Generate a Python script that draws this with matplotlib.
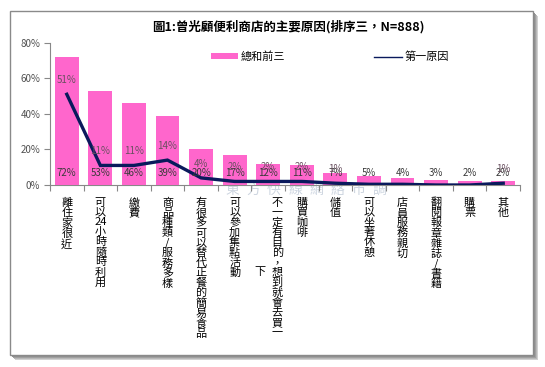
import matplotlib
matplotlib.use('Agg')
import matplotlib.pyplot as plt
import matplotlib.patches as mpatches
import matplotlib.transforms as mtransforms
from matplotlib.lines import Line2D
import numpy as np

plt.rcParams['font.family'] = ['Noto Sans CJK TC', 'DejaVu Sans']

# data
categories = ['離住家很近', '可以24小時隨時利用', '繳費', '商品種類/服務多樣',
              '有很多可以替代正餐的簡易食品', '可以參加集點活動',
              '不一定有目的，想到就會去買一下', '購買咖啡', '儲值', '可以坐著休憩',
              '店員服務親切', '翻閱報章雜誌/書籍', '購票', '其他']
top3 = [72, 53, 46, 39, 20, 17, 12, 11, 7, 5, 4, 3, 2, 2]
first = [51, 11, 11, 14, 4, 2, 2, 2, 1, 0.4, 0.4, 0, 0, 1]

title = '圖1:曾光顧便利商店的主要原因(排序三，N=888)'
watermark = '東方快線網絡市調'
bar_color = '#ff66cc'
line_color = '#0a1a5c'
axis_gray = '#888888'

W, H = 545, 367
fig = plt.figure(figsize=(W / 100, H / 100), dpi=100)

# outer frame with shadow
for off, c in [(5, '#d0d0d0'), (4, '#b8b8b8'), (3, '#a0a0a0'), (2, '#909090')]:
    fig.patches.append(mpatches.Rectangle(((10 + off) / W, (12 - off) / H), 523 / W, 344 / H,
                                          transform=fig.transFigure, facecolor=c,
                                          edgecolor='none', zorder=0))
fig.patches.append(mpatches.Rectangle((10 / W, 12 / H), 523 / W, 344 / H,
                                      transform=fig.transFigure, facecolor='white',
                                      edgecolor='#8a8a8a', lw=1.0, zorder=1))

# watermark, one glyph at a time (wide tracking)
for i, ch in enumerate(watermark):
    fig.text((232 + 21 * i) / W, (367 - 190) / H, ch, color='#cdd5e0', fontsize=10,
             ha='center', va='center', zorder=2)

ax = fig.add_axes([50 / W, 182 / H, 470 / W, 142.3 / H])
ax.set_facecolor('none')
ax.set_zorder(3)

x = np.arange(len(categories))
vals_bar = np.array(top3) / 100
vals_line = np.array(first) / 100

ax.bar(x, vals_bar, width=0.71, color=bar_color, zorder=3)
ax.plot(x, vals_line, color=line_color, lw=2.4, zorder=4, solid_joinstyle='miter')

ax.set_xlim(-0.5, len(categories) - 0.5)
ax.set_ylim(0, 0.8)
ax.set_yticks([0, 0.2, 0.4, 0.6, 0.8])
ax.set_yticklabels(['0%', '20%', '40%', '60%', '80%'])
ax.set_xticks(np.arange(len(categories) + 1) - 0.5)
ax.set_xticklabels([])
for s in ['top', 'right']:
    ax.spines[s].set_visible(False)
for s in ['left', 'bottom']:
    ax.spines[s].set_color(axis_gray)
ax.tick_params(axis='both', direction='out', length=4, color=axis_gray,
               labelsize=7, labelcolor='#505050')
ax.tick_params(axis='y', pad=3)

# data labels
tr_bar = ax.transData + mtransforms.ScaledTranslation(0, 12 / 100, fig.dpi_scale_trans)
for xi, v in zip(x, top3):
    ax.text(xi, 0, f'{v}%', transform=tr_bar, ha='center', va='center',
            fontsize=7, color='#3a3a3a', zorder=5)
tr_line = ax.transData + mtransforms.ScaledTranslation(0, 9 / 100, fig.dpi_scale_trans)
for xi, v in zip(x, first):
    if round(v) >= 1:
        ax.text(xi, v / 100, f'{round(v)}%', transform=tr_line, ha='center',
                va='bottom', fontsize=7, color='#6a5060', zorder=5)

# vertical category labels
xt = ax.get_xaxis_transform()
for xi, lab in zip(x, categories):
    if len(lab) > 14:
        col1, col2 = lab[:14], lab[14:]
        ax.text(xi + 0.27, -0.09, '\n'.join(col1), transform=xt, ha='center',
                va='top', fontsize=8, linespacing=0.98, color='black', clip_on=False)
        ax.text(xi - 0.24, -0.09 - 0.5 * 14 * 10.6 / 142.3, '\n'.join(col2),
                transform=xt, ha='center', va='center', fontsize=8, color='black',
                clip_on=False)
    else:
        parts = []
        i = 0
        while i < len(lab):
            if lab[i:i + 2].isdigit():
                parts.append(lab[i:i + 2])
                i += 2
            else:
                parts.append(lab[i])
                i += 1
        ax.text(xi, -0.09, '\n'.join(parts), transform=xt, ha='center', va='top',
                fontsize=8, linespacing=0.98, color='black', clip_on=False)

fig.text(288 / W, (367 - 27) / H, title, ha='center', va='center', fontsize=9,
         fontweight='bold', color='black', zorder=4)

handles = [mpatches.Patch(facecolor=bar_color, edgecolor='none'),
           Line2D([], [], color=line_color, lw=1.0)]
ax.legend(handles, ['總和前三', '第一原因'], loc='center',
          bbox_to_anchor=(330 / W, (367 - 57) / H), bbox_transform=fig.transFigure,
          ncol=2, frameon=False, fontsize=8, handlelength=2.45, handleheight=0.45,
          columnspacing=8, handletextpad=0.25)

fig.savefig('out.png', dpi=100)
